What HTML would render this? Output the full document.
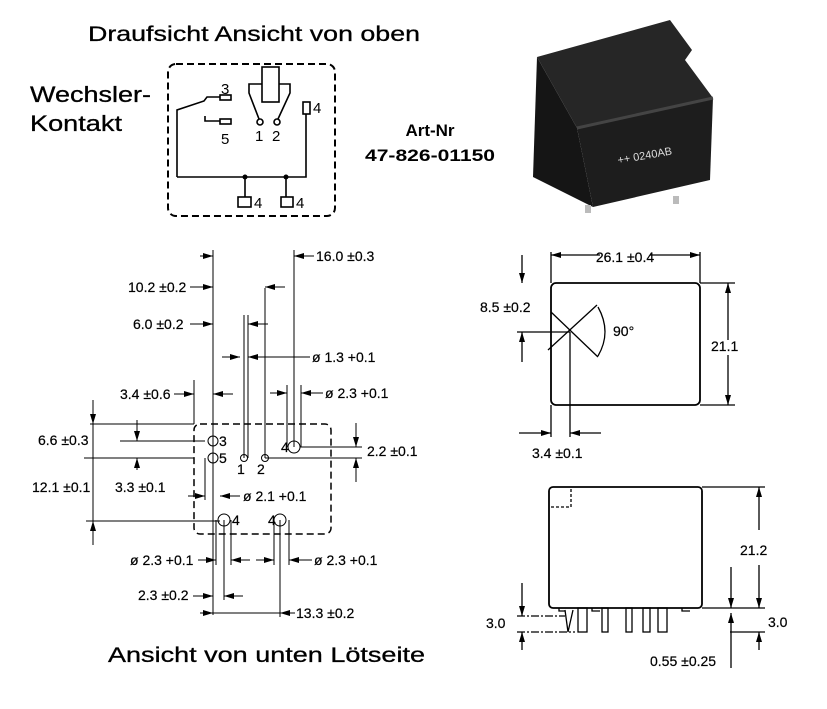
<!DOCTYPE html>
<html><head><meta charset="utf-8"><style>
html,body{margin:0;padding:0;background:#fff;}
svg{display:block;font-family:"Liberation Sans",sans-serif;}
.t{stroke:#000;stroke-width:0.3;}
.d{stroke:#000;stroke-width:0.2;}
</style></head><body>
<svg width="827" height="709" viewBox="0 0 827 709" xmlns="http://www.w3.org/2000/svg">
<defs>
<marker id="a" viewBox="0 0 10 6" refX="10" refY="3" markerWidth="10" markerHeight="6" orient="auto" markerUnits="userSpaceOnUse"><path d="M0,0 L10,3 L0,6 z" fill="#000"/></marker>
</defs>
<rect width="827" height="709" fill="#fff"/>

<text class="t" x="88" y="41" font-size="21" textLength="332" lengthAdjust="spacingAndGlyphs">Draufsicht Ansicht von oben</text>
<text class="t" x="30" y="102" font-size="22" textLength="121" lengthAdjust="spacingAndGlyphs">Wechsler-</text>
<text class="t" x="30" y="131" font-size="22" textLength="92" lengthAdjust="spacingAndGlyphs">Kontakt</text>
<text x="430" y="136" font-size="17" font-weight="bold" text-anchor="middle">Art-Nr</text>
<text x="365" y="161" font-size="17" font-weight="bold" textLength="130" lengthAdjust="spacingAndGlyphs">47-826-01150</text>
<text class="t" x="108" y="662" font-size="21" textLength="317" lengthAdjust="spacingAndGlyphs">Ansicht von unten Lötseite</text>

<g fill="none" stroke="#000" stroke-width="1.6">
<rect x="168" y="64" width="167" height="152" rx="8" stroke-dasharray="7,4" stroke-width="2"/>
<rect x="262" y="67" width="17" height="35"/>
<path d="M262,84 H249 V93 L259,119 M279,84 H290 V93 L278,119"/>
<circle cx="260" cy="122" r="3"/><circle cx="277" cy="122" r="3"/>
<rect x="220" y="95" width="11" height="5"/>
<rect x="220" y="119" width="11" height="5"/>
<path d="M177,177 V110 L204,101 L207,97 H220"/>
<path d="M205,116 V121 H220"/>
<rect x="303" y="102" width="7" height="12"/>
<path d="M306,114 V177 H177"/>
<path d="M245,177 V197 M286,177 V197"/>
<rect x="238" y="197" width="13" height="10"/>
<rect x="281" y="197" width="12" height="10"/>
</g>
<circle cx="245" cy="177" r="2.5"/><circle cx="286" cy="177" r="2.5"/>
<g font-size="15">
<text x="221" y="94">3</text><text x="221" y="144">5</text>
<text x="255" y="141">1</text><text x="272" y="141">2</text>
<text x="313" y="113">4</text><text x="254" y="208">4</text><text x="296" y="208">4</text>
</g>

<polygon points="533,177 537,57 577,128 593,207" fill="#151515"/>
<polygon points="577,128 713,98 710,180 593,207" fill="#1d1d1d"/>
<polygon points="537,57 670,20 692,50 685,60 713,98 577,128" fill="#262626"/>
<path d="M577,128 L713,98" stroke="#444" stroke-width="3"/>
<rect x="585" y="205" width="6" height="8" fill="#bbb"/><rect x="673" y="196" width="6" height="8" fill="#bbb"/>
<text x="617" y="160" font-size="11" fill="#ddd" transform="rotate(-10 640 155)">++ 0240AB</text>

<g fill="none" stroke="#000" stroke-width="1">
<rect x="194" y="424" width="137" height="110" rx="6" stroke-dasharray="7,4" stroke-width="1.5"/>
<path d="M213,250 V615 M244,315 V458 M248,315 V458 M265,288 V458 M294,250 V447 M287,385 V447 M301,385 V447 M194,380 V424"/>
<path d="M216,520 V565 M231,520 V565 M224,520 V600 M280,520 V617 M274,520 V565 M289,520 V565"/>
<path d="M205,458 V500"/>
<path d="M90,424 H194 M120,441 H205 M84,458 H194 M265,458 H362 M300,447 H362 M86,521 H220"/>
<circle cx="213" cy="441" r="5"/><circle cx="213" cy="458" r="5"/>
<circle cx="294" cy="447" r="6"/><circle cx="224" cy="520" r="6"/><circle cx="280" cy="520" r="6"/>
<circle cx="244" cy="458" r="3.5"/><circle cx="265" cy="458" r="3.5"/>
<path d="M200,256 H213" marker-end="url(#a)"/><path d="M314,256 H294" marker-end="url(#a)"/>
<path d="M190,287 H213" marker-end="url(#a)"/><path d="M285,287 H265" marker-end="url(#a)"/>
<path d="M190,324 H213" marker-end="url(#a)"/><path d="M268,324 H248" marker-end="url(#a)"/>
<path d="M222,357 H240" marker-end="url(#a)"/><path d="M310,357 H248" marker-end="url(#a)"/>
<path d="M174,394 H194" marker-end="url(#a)"/><path d="M233,394 H213" marker-end="url(#a)"/>
<path d="M270,393 H287" marker-end="url(#a)"/><path d="M323,393 H301" marker-end="url(#a)"/>
<path d="M93,400 V424" marker-end="url(#a)"/><path d="M93,545 V521" marker-end="url(#a)"/><path d="M93,424 V521"/>
<path d="M137,420 V441" marker-end="url(#a)"/><path d="M137,470 V458" marker-end="url(#a)"/>
<path d="M356,423 V447" marker-end="url(#a)"/><path d="M356,482 V458" marker-end="url(#a)"/>
<path d="M188,496 H205" marker-end="url(#a)"/><path d="M240,496 H220" marker-end="url(#a)"/>
<path d="M198,560 H216" marker-end="url(#a)"/><path d="M250,560 H231" marker-end="url(#a)"/>
<path d="M256,560 H274" marker-end="url(#a)"/><path d="M312,560 H289" marker-end="url(#a)"/>
<path d="M193,596 H213" marker-end="url(#a)"/><path d="M243,596 H224" marker-end="url(#a)"/>
<path d="M200,613 H213" marker-end="url(#a)"/><path d="M295,613 H280" marker-end="url(#a)"/><path d="M213,613 H280"/>
</g>
<g font-size="14" class="d">
<text x="316" y="261">16.0 ±0.3</text>
<text x="128" y="292">10.2 ±0.2</text>
<text x="133" y="329">6.0 ±0.2</text>
<text x="312" y="362">ø 1.3 +0.1</text>
<text x="120" y="399">3.4 ±0.6</text>
<text x="325" y="398">ø 2.3 +0.1</text>
<text x="38" y="445">6.6 ±0.3</text>
<text x="32" y="492">12.1 ±0.1</text>
<text x="115" y="492">3.3 ±0.1</text>
<text x="367" y="456">2.2 ±0.1</text>
<text x="243" y="501">ø 2.1 +0.1</text>
<text x="130" y="565">ø 2.3 +0.1</text>
<text x="314" y="565">ø 2.3 +0.1</text>
<text x="138" y="600">2.3 ±0.2</text>
<text x="296" y="618">13.3 ±0.2</text>
</g>
<g font-size="14" class="d">
<text x="219" y="446">3</text><text x="219" y="463">5</text>
<text x="237" y="474">1</text><text x="257" y="474">2</text>
<text x="281" y="452">4</text><text x="232" y="525">4</text><text x="268" y="525">4</text>
</g>

<g fill="none" stroke="#000" stroke-width="1.3">
<rect x="551" y="283" width="149" height="122" rx="5" stroke-width="1.8"/>
<path d="M551,252 V283 M700,252 V283 M700,283 H735 M700,405 H735 M517,332 H570 M570,332 V437 M551,405 V437"/>
<path d="M551,312 L598,357 M597,305 L548,350"/>
<path d="M598,307 Q612,332 598,356"/>
<path d="M600,255 H551" marker-end="url(#a)"/><path d="M650,255 H700" marker-end="url(#a)"/>
<path d="M522,255 V283" marker-end="url(#a)"/><path d="M522,362 V332" marker-end="url(#a)"/>
<path d="M728,340 V283" marker-end="url(#a)"/><path d="M728,355 V405" marker-end="url(#a)"/>
<path d="M519,433 H551" marker-end="url(#a)"/><path d="M601,433 H570" marker-end="url(#a)"/>
</g>
<g font-size="14" class="d">
<text x="625" y="262" text-anchor="middle">26.1 ±0.4</text>
<text x="480" y="312">8.5 ±0.2</text>
<text x="613" y="336">90°</text>
<text x="711" y="351">21.1</text>
<text x="532" y="458">3.4 ±0.1</text>
</g>

<g fill="none" stroke="#000" stroke-width="1.3">
<rect x="549" y="487" width="153" height="121" rx="4" stroke-width="1.8"/>
<path d="M551,507 H571 V487" stroke-dasharray="3,2"/>
<rect x="578" y="608" width="9" height="24"/><rect x="602" y="608" width="6" height="24"/>
<rect x="626" y="608" width="6" height="24"/><rect x="643" y="608" width="7" height="24"/><rect x="658" y="608" width="9" height="24"/>
<path d="M565,610 L568,632 L573,610"/>
<path d="M559,608 V611 H565 M592,608 V611 H600 M682,608 V611 H690"/>
<path d="M702,487 H765 M702,608 H765 M730,632 H765"/>
<path d="M517,616 H565 M517,632 H575" stroke-dasharray="8,2,2,2"/>
<path d="M759,530 V487" marker-end="url(#a)"/><path d="M759,565 V608" marker-end="url(#a)"/>
<path d="M759,650 V632" marker-end="url(#a)"/>
<path d="M731,567 V608" marker-end="url(#a)"/><path d="M731,668 V613" marker-end="url(#a)"/>
<path d="M522,583 V616" marker-end="url(#a)"/><path d="M522,650 V632" marker-end="url(#a)"/>
</g>
<g font-size="14" class="d">
<text x="740" y="555">21.2</text>
<text x="768" y="627">3.0</text>
<text x="486" y="628">3.0</text>
<text x="650" y="666">0.55 ±0.25</text>
</g>
</svg>
</body></html>
